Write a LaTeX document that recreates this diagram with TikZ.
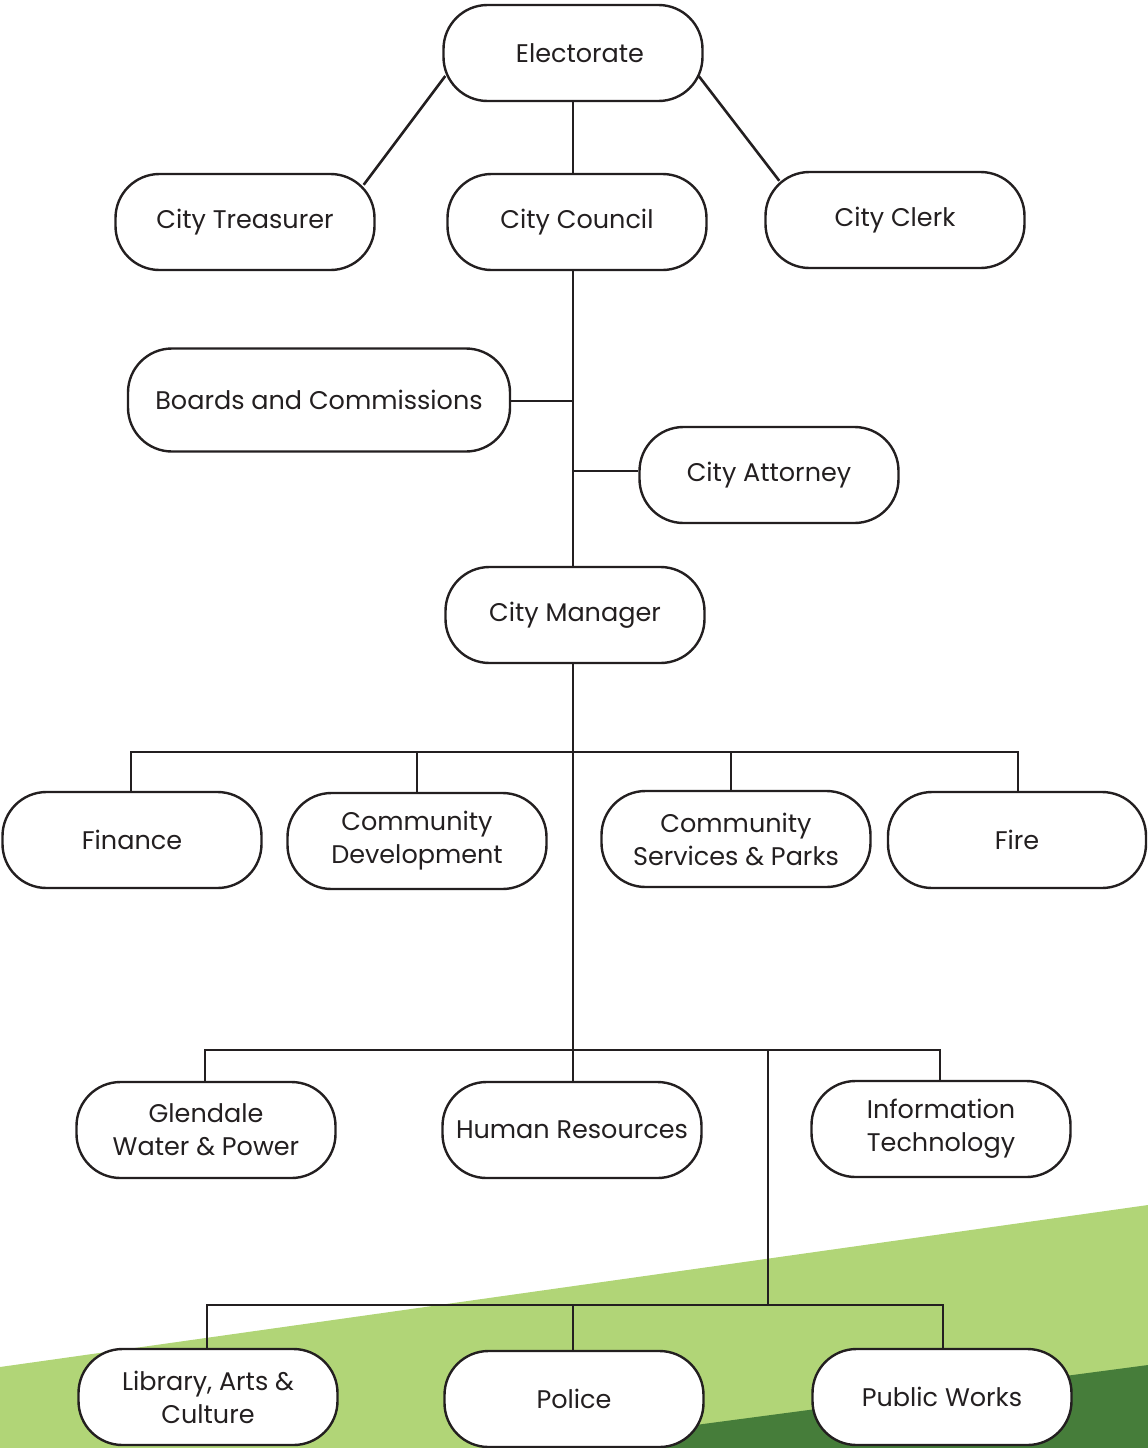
\documentclass[tikz,border=0pt]{standalone}
\usepackage{fontspec}
\setmainfont{Poppins}
\definecolor{txt}{HTML}{231F20}
\definecolor{lightg}{HTML}{B1D577}
\definecolor{darkg}{HTML}{467D3A}
\tikzset{
  box/.style={draw=txt, line width=2.4pt, fill=white, rounded corners=44pt,
    minimum width=259pt, minimum height=96pt, inner sep=0pt, align=center,
    font=\fontsize{25.5}{33}\selectfont, text=txt},
  conn/.style={draw=txt, line width=2.6pt}
}
\begin{document}
\begin{tikzpicture}[x=1pt,y=-1pt]
\useasboundingbox (0,0) rectangle (1148,1448);
% background
\fill[lightg] (0,1367) -- (1148,1205) -- (1148,1448) -- (0,1448) -- cycle;
\fill[darkg] (522,1448) -- (1148,1365) -- (1148,1448) -- cycle;
% nodes
\node[box] (elect) at (573,53) {\hspace*{14pt}Electorate};
\node[box] (treas) at (245,222) {City Treasurer};
\node[box] (council) at (577,222) {City Council};
\node[box] (clerk) at (895,220) {City Clerk};
\node[box, minimum width=382pt, minimum height=103pt] (boards) at (319,400) {Boards and Commissions};
\node[box] (atty) at (769,475) {City Attorney};
\node[box] (mgr) at (575,615) {City Manager};
\node[box] (fin) at (132,840) {Finance};
\node[box] (cd) at (417,841) {Community\\Development};
\node[box, minimum width=269pt] (csp) at (736,839) {Community\\Services \& Parks};
\node[box, minimum width=258pt] (fire) at (1017,840) {Fire};
\node[box] (gwp) at (206,1130) {Glendale\\Water \& Power};
\node[box] (hr) at (572,1130) {Human Resources};
\node[box] (it) at (941,1129) {Information\\Technology};
\node[box] (lib) at (208,1397) {Library, Arts \&\\Culture};
\node[box] (pol) at (574,1399) {Police};
\node[box] (pw) at (942,1397) {Public Works};
% junction coordinates
\coordinate (t1) at (573,401);
\coordinate (t2) at (573,471);
\coordinate (b1) at (573,752);
\coordinate (b2) at (573,1050);
\coordinate (b3) at (768,1050);
\coordinate (b4) at (768,1305);
% connectors
\draw[conn] ([shift={(3,23)}]elect.west) -- ([shift={(-12,12)}]treas.north east);
\draw[conn] ([shift={(-5,23)}]elect.east) -- ([shift={(15,10)}]clerk.north west);
\draw[conn] (elect.south -| b1) -- (council.north -| b1);
\draw[conn] (council.south -| b1) -- (mgr.north -| b1);
\draw[conn] (boards.east |- t1) -- (t1);
\draw[conn] (t2) -- (atty.west |- t2);
\draw[conn] (mgr.south -| b1) -- (hr.north -| b1);
\draw[conn] (fin.north -| 131,0) |- (b1) -| (fire.north -| 1018,0);
\draw[conn] (cd.north) -- (cd.north |- b1);
\draw[conn] (csp.north -| 731,0) -- (b1 -| 731,0);
\draw[conn] (gwp.north -| 205,0) |- (b2) -| (it.north -| 940,0);
\draw[conn] (b3) -- (b4);
\draw[conn] (lib.north -| 207,0) |- (b4) -| (pw.north -| 943,0);
\draw[conn] (b4 -| 573,0) -- (pol.north -| 573,0);
\end{tikzpicture}
\end{document}
